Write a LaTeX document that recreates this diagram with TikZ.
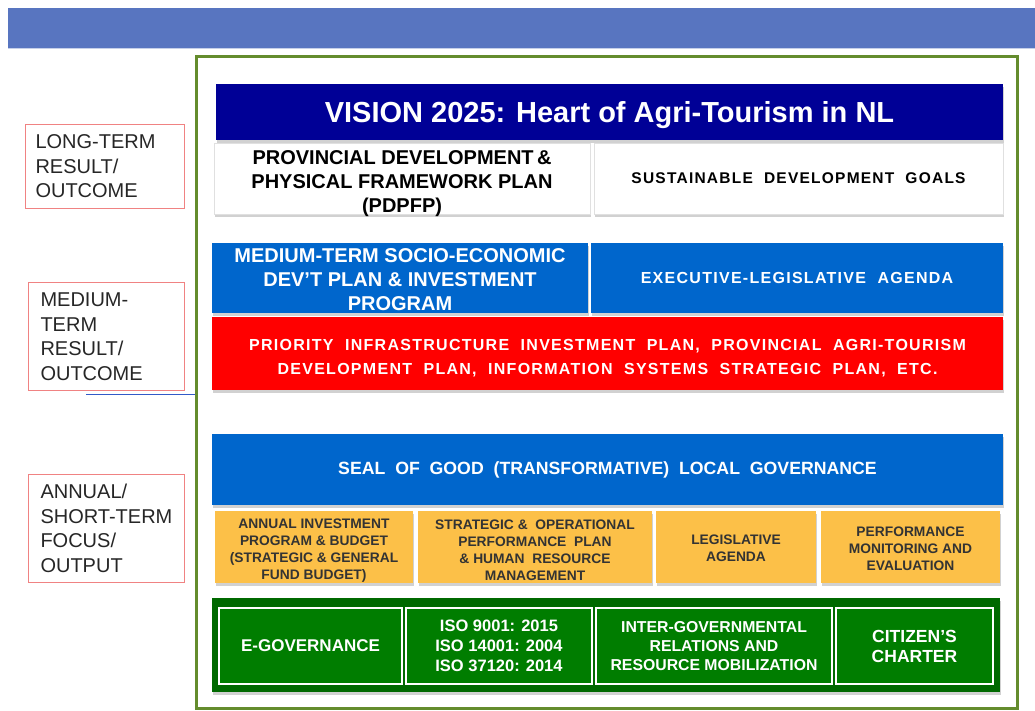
\documentclass[tikz,border=0pt]{standalone}
\usepackage{fontspec}
\setmainfont{Liberation Sans}
\newfontfamily\spaced[LetterSpace=8]{Liberation Sans}
\usetikzlibrary{shadows}

\definecolor{bannerblue}{RGB}{88,117,192}
\definecolor{framegreen}{RGB}{100,140,45}
\definecolor{labelred}{RGB}{240,130,130}
\definecolor{visionblue}{RGB}{0,0,150}
\definecolor{boxblue}{RGB}{0,102,204}
\definecolor{boxyellow}{RGB}{252,192,72}
\definecolor{bandgreen}{RGB}{0,105,0}
\definecolor{boxgreen}{RGB}{0,125,0}
\definecolor{linkblue}{RGB}{50,90,200}

\newcommand{\fs}[2]{\fontsize{#1}{#2}\selectfont}

\tikzset{
    box/.style={inner sep=2pt, outer sep=0pt, align=center, font=\bfseries,
        drop shadow={shadow xshift=1pt, shadow yshift=-3pt, opacity=0.3, fill=black!60}},
    whitebox/.style={box, fill=white, draw=black!12, text=black},
    bluebox/.style={box, fill=boxblue, text=white},
    yellowbox/.style={box, inner ysep=0pt, fill=boxyellow, text=black!80, font=\bfseries\fs{13.8}{17}},
    greenbox/.style={inner sep=2pt, outer sep=0pt, align=center, font=\bfseries,
        fill=boxgreen, draw=white, line width=2pt, text=white},
    boxtext/.style={inner sep=0pt, align=center, font=\bfseries\fs{20}{24}},
    labelbox/.style={draw=labelred, line width=1pt, align=left, anchor=north west,
        inner xsep=10pt, inner ysep=7pt, font=\fs{20}{24.5}, text=black!85}
}

\begin{document}
\begin{tikzpicture}[x=1pt, y=-1pt]
    \useasboundingbox (0,0) rectangle (1035,711);
    % Kopfleiste.
    \fill[bannerblue] (8,8) rectangle (1035,48);
    \draw[color=bannerblue!35, line width=1pt] (8,49) -- (1035,49);

    % Rahmen.
    \node[draw=framegreen, line width=3pt, minimum width=821, minimum height=651,
        inner sep=0pt] (frame) at (606.5,382.5) {};

    % Linke Spalte.
    \node[labelbox, text width=139, minimum height=84] (longterm) at (25,124)
        {LONG-TERM\\RESULT/\\OUTCOME};
    \node[labelbox, inner xsep=12pt, text width=132, minimum height=108] (medterm) at (28,282)
        {MEDIUM-\\TERM\\RESULT/\\OUTCOME};
    \node[labelbox, inner xsep=12pt, text width=132, minimum height=108] (annual) at (28,474)
        {ANNUAL/\\\mbox{SHORT-TERM}\\FOCUS/\\OUTPUT};
    \coordinate (lstart) at (86,394);
    \draw[color=linkblue, line width=1pt] (lstart) -- (lstart -| frame.west);

    % Langfristig.
    \node[box, fill=visionblue, text=white, font=\bfseries\fs{29}{32}, text depth=0pt,
        minimum width=787, minimum height=56] (vision) at (609.5,112)
        {VISION 2025: Heart of Agri-Tourism in NL};
    \node[whitebox, minimum width=376, minimum height=71] (pdpfp) at (402,178.5) {};
    \node[boxtext] (pdpfptext) at ([yshift=-5pt]pdpfp.center)
        {PROVINCIAL DEVELOPMENT\,\&\\PHYSICAL FRAMEWORK PLAN\\(PDPFP)};
    \node[whitebox, font=\spaced\bfseries\fs{15.5}{20}, minimum width=409, minimum height=71] (sdg)
        at (798.5,178.5) {SUSTAINABLE\ \ DEVELOPMENT\ \ GOALS};

    % Mittelfristig.
    \node[bluebox, minimum width=376, minimum height=70] (mtdp) at (400,278) {};
    \node[boxtext, text=white] (mtdptext) at ([yshift=-2pt]mtdp.center)
        {MEDIUM-TERM SOCIO-ECONOMIC\\DEV'T PLAN \& INVESTMENT\\PROGRAM};
    \node[bluebox, font=\spaced\bfseries\fs{16}{20}, minimum width=412, minimum height=70] (ela)
        at (797,278) {EXECUTIVE-LEGISLATIVE\ \ AGENDA};
    \node[box, fill=red, text=white, font=\spaced\bfseries\fs{16}{24}, minimum width=791,
        minimum height=73] (pipp) at (607.5,353.5)
        {\rule{0pt}{20pt}PRIORITY\ \ INFRASTRUCTURE\ \ INVESTMENT\ \ PLAN,\ \ PROVINCIAL\ \ AGRI-TOURISM\\
         DEVELOPMENT\ \ PLAN,\ \ INFORMATION\ \ SYSTEMS\ \ STRATEGIC\ \ PLAN,\ \ ETC.};

    % Jaehrlich.
    \node[bluebox, font=\bfseries\fs{17.7}{20}, minimum width=791, minimum height=71] (seal)
        at (607.5,469.5) {SEAL\ \ OF\ \ GOOD\ \ (TRANSFORMATIVE)\ \ LOCAL\ \ GOVERNANCE};
    \node[yellowbox, minimum width=198, minimum height=72] (aipb)
        at (314,547) {\rule{0pt}{16pt}ANNUAL INVESTMENT\\PROGRAM \& BUDGET\\(STRATEGIC \& GENERAL\\FUND BUDGET)};
    \node[yellowbox, minimum width=234, minimum height=72] (sopp)
        at (535,547) {\rule{0pt}{16pt}STRATEGIC \&\ \ OPERATIONAL\\PERFORMANCE\ \ PLAN\\\& HUMAN\ \ RESOURCE\\MANAGEMENT};
    \node[yellowbox, minimum width=160, minimum height=72] (legis)
        at (736,547) {\rule{0pt}{13pt}LEGISLATIVE\\AGENDA};
    \node[yellowbox, minimum width=179, minimum height=72] (pme)
        at (910.5,547) {\rule{0pt}{13pt}PERFORMANCE\\MONITORING AND\\EVALUATION};

    % Gruene Leiste.
    \node[box, fill=bandgreen, minimum width=788, minimum height=94] (band) at (606,645) {};
    \node[greenbox, font=\bfseries\fs{17}{20}, minimum width=183, minimum height=76] (egov)
        at (310.5,646) {E-GOVERNANCE};
    \node[greenbox, font=\bfseries\fs{16.5}{20}, minimum width=186, minimum height=76] (iso)
        at (499,646) {ISO 9001: 2015\\ISO 14001: 2004\\ISO 37120: 2014};
    \node[greenbox, font=\bfseries\fs{15.8}{19}, minimum width=236, minimum height=76] (igr)
        at (714,646) {INTER-GOVERNMENTAL\\RELATIONS AND\\RESOURCE MOBILIZATION};
    \node[greenbox, font=\bfseries\fs{17.5}{20}, minimum width=157, minimum height=76] (charter)
        at (914.5,646) {CITIZEN'S\\CHARTER};
\end{tikzpicture}
\end{document}
